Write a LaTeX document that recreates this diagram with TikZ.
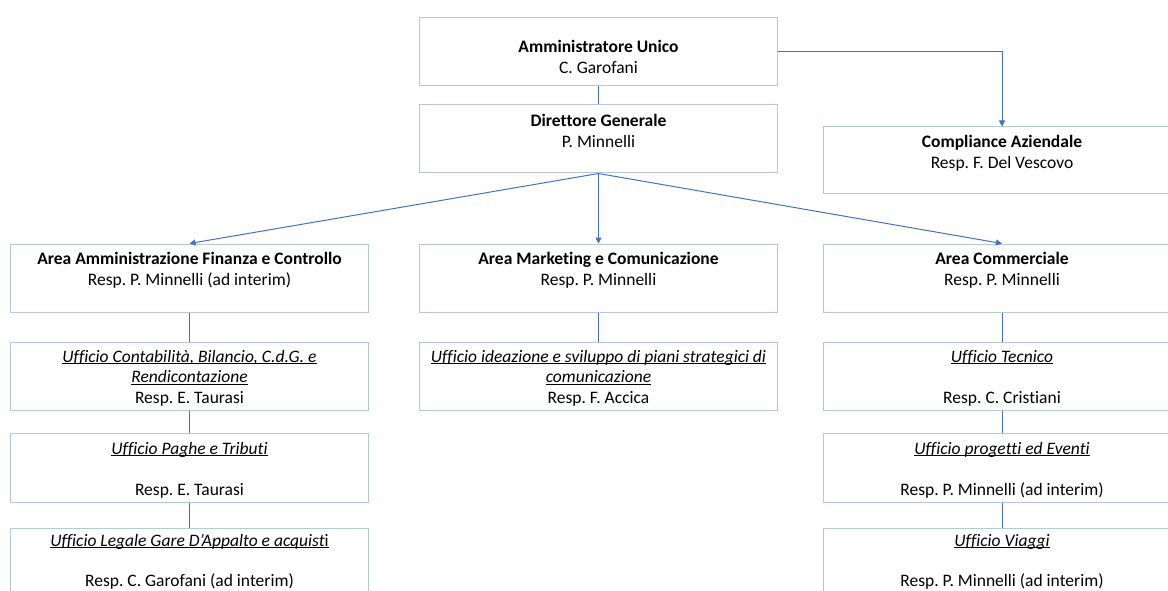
\documentclass[tikz,border=0pt]{standalone}
\usepackage{fontspec}
\setmainfont[Ligatures={NoCommon}]{Carlito}
\usetikzlibrary{arrows.meta}
\definecolor{boxc}{RGB}{180,199,231}
\definecolor{linec}{RGB}{68,114,196}
\newcommand\tlines[1]{{\renewcommand\arraystretch{1}\setlength\tabcolsep{0pt}\begin{tabular}[t]{c}#1\end{tabular}}}
\newcommand\uln[1]{\underline{\smash{#1}\vphantom{a}}}
\newcommand\uff[1]{\uln{\textit{#1}}}
\begin{document}
\frenchspacing
\begin{tikzpicture}[x=1pt,y=-1pt,
  box/.style={draw=boxc, line width=1pt, minimum width=358pt, minimum height=68pt, inner sep=0pt, fill=white},
  txt/.style={anchor=base, inner sep=0pt, font=\fontsize{17.5pt}{20.8pt}\selectfont\frenchspacing},
  conn/.style={draw=linec, line width=1pt},
  arr/.style={conn, -{Triangle[width=6pt,length=6pt]}}]
\useasboundingbox (0,0) rectangle (1168,591);
\clip (0,0) rectangle (1168,591);
\fill[white] (0,0) rectangle (1168,591);
% top
\node[box] (au) at (598.5,52) {};
\node[box] (dg) at (598.5,139) {};
\node[box, minimum height=67pt] (comp) at (1002,160.5) {};
% areas
\node[box] (a1) at (189.5,278) {};
\node[box] (a2) at (598.5,278) {};
\node[box] (a3) at (1002,278) {};
% sub offices
\node[box] (s11) at (189.5,376) {};
\node[box, minimum height=69pt] (s12) at (189.5,467.5) {};
\node[box] (s13) at (189.5,562) {};
\node[box] (s21) at (598.5,376) {};
\node[box] (s31) at (1002,376) {};
\node[box, minimum height=69pt] (s32) at (1002,467.5) {};
\node[box] (s33) at (1002,562) {};
% connectors
\draw[conn] (au.south) -- (dg.north);
\draw[arr] (au.east) -| (comp.north);
\draw[arr] (dg.south) -- (a1.north);
\draw[arr] (dg.south) -- (a2.north);
\draw[arr] (dg.south) -- (a3.north);
\draw[conn] (a1.south) -- (s11.north);
\draw[conn] (s11.south) -- (s12.north);
\draw[conn] (s12.south) -- (s13.north);
\draw[conn] (a2.south) -- (s21.north);
\draw[conn] (a3.south) -- (s31.north);
\draw[conn] (s31.south) -- (s32.north);
\draw[conn] (s32.south) -- (s33.north);
% texts
\node[txt] (auT) at (598.5,52.5) {\tlines{\textbf{Amministratore Unico}\\C. Garofani}};
\node[txt] (dgT) at (598.5,126.5) {\tlines{\textbf{Direttore Generale}\\P. Minnelli}};
\node[txt] (compT) at (1002,147.5) {\tlines{\textbf{Compliance Aziendale}\\Resp. F. Del Vescovo}};
\node[txt] (a1T) at (189.5,264.5) {\tlines{\textbf{Area Amministrazione Finanza e Controllo}\\Resp. P. Minnelli (ad interim)}};
\node[txt] (a2T) at (598.5,264.5) {\tlines{\textbf{Area Marketing e Comunicazione}\\Resp. P. Minnelli}};
\node[txt] (a3T) at (1002,264.5) {\tlines{\textbf{Area Commerciale}\\Resp. P. Minnelli}};
\node[txt] (s11T) at (189.5,362) {\tlines{\uff{Ufficio Contabilità, Bilancio, C.d.G. e}\\\uff{Rendicontazione}\\Resp. E. Taurasi}};
\node[txt] (s12T) at (189.5,454) {\tlines{\uff{Ufficio Paghe e Tributi}\\ \\Resp. E. Taurasi}};
\node[txt] (s13T) at (189.5,546) {\tlines{\uln{\textit{Ufficio Legale Gare D’Appalto e acquist}i}\\[-1.5pt] \\Resp. C. Garofani (ad interim)}};
\node[txt] (s21T) at (598.5,362) {\tlines{\uff{Ufficio ideazione e sviluppo di piani strategici di}\\\uff{comunicazione}\\Resp. F. Accica}};
\node[txt] (s31T) at (1002,362) {\tlines{\uff{Ufficio Tecnico}\\ \\Resp. C. Cristiani}};
\node[txt] (s32T) at (1002,454) {\tlines{\uff{Ufficio progetti ed Eventi}\\ \\Resp. P. Minnelli (ad interim)}};
\node[txt] (s33T) at (1002,546) {\tlines{\uff{Ufficio Viaggi}\\[-1.5pt] \\Resp. P. Minnelli (ad interim)}};
\end{tikzpicture}
\end{document}
